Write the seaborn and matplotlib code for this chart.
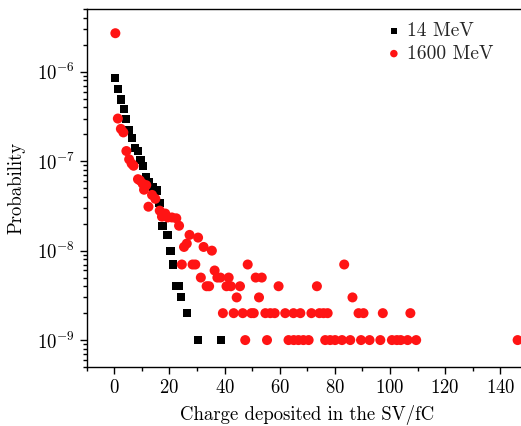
import matplotlib
matplotlib.use("Agg")
import matplotlib.pyplot as plt
import matplotlib.ticker as mticker
import numpy as np
import pandas as pd
import seaborn as sns

# ---------------------------------------------------------------------------
# Data
# ---------------------------------------------------------------------------

charge_14 = [0.4, 1.5, 2.4, 3.4, 4.4, 5.5, 6.5, 7.5, 8.6, 9.5, 10.5, 11.6, 12.7,
             14.0, 15.5, 16.4, 17.5, 19.3, 20.4, 21.3, 22.5, 23.6, 24.3, 26.4,
             30.4, 38.6]
prob_14 = [8.5e-7, 6.4e-7, 4.9e-7, 3.8e-7, 3.0e-7, 2.25e-7, 1.8e-7, 1.42e-7,
           1.3e-7, 1.04e-7, 8.8e-8, 6.6e-8, 5.8e-8, 5.1e-8, 4.7e-8, 3.4e-8,
           1.9e-8, 1.5e-8, 1.0e-8, 7e-9, 4e-9, 4e-9, 3e-9, 2e-9, 1e-9, 1e-9]

charge_1600 = [0.4, 1.3, 2.4, 3.3, 4.4, 5.4, 6.3, 7.0, 8.6, 9.3, 10.3, 10.8,
               11.6, 12.4, 13.7, 14.9, 16.5, 17.3, 18.5, 19.4, 20.9, 22.5, 23.5,
               24.5, 25.3, 26.3, 27.3, 28.4, 29.4, 30.4, 31.4, 32.4, 33.5, 34.4,
               35.4, 36.4, 37.4, 38.5, 39.4, 40.7, 41.5, 42.3, 43.3, 44.4, 45.6,
               46.6, 47.5, 48.4, 49.7, 50.6, 51.3, 52.5, 53.5, 54.8, 55.4, 56.6,
               58.2, 59.6, 62.0, 63.2, 65.0, 65.1, 66.8, 67.5, 68.6, 70.5, 71.5,
               73.5, 74.4, 75.9, 76.5, 77.4, 78.3, 80.1, 82.6, 83.4, 85.6, 86.4,
               88.6, 89.5, 90.4, 92.6, 96.5, 97.4, 100.7, 102.5, 103.9, 106.4,
               107.4, 109.5, 146.3]
prob_1600 = [2.7e-6, 3.0e-7, 2.3e-7, 2.1e-7, 1.3e-7, 1.05e-7, 9.4e-8, 8.9e-8,
             6.3e-8, 6.1e-8, 5.6e-8, 4.8e-8, 5.4e-8, 3.1e-8, 4.2e-8, 3.8e-8,
             2.8e-8, 2.4e-8, 2.6e-8, 2.35e-8, 2.35e-8, 2.3e-8, 1.9e-8, 7e-9,
             1.1e-8, 1.2e-8, 1.5e-8, 7e-9, 7e-9, 1.4e-8, 5e-9, 1.1e-8, 4e-9,
             4e-9, 1.0e-8, 6e-9, 5e-9, 5e-9, 2e-9, 4e-9, 5e-9, 4e-9, 2e-9, 3e-9,
             4e-9, 2e-9, 1e-9, 7e-9, 2e-9, 2e-9, 5e-9, 3e-9, 5e-9, 2e-9, 1e-9,
             2e-9, 2e-9, 4e-9, 2e-9, 1e-9, 2e-9, 1e-9, 1e-9, 2e-9, 1e-9, 1e-9,
             2e-9, 4e-9, 2e-9, 2e-9, 1e-9, 2e-9, 1e-9, 1e-9, 1e-9, 7e-9, 1e-9,
             3e-9, 2e-9, 1e-9, 2e-9, 1e-9, 1e-9, 2e-9, 1e-9, 1e-9, 1e-9, 1e-9,
             2e-9, 1e-9, 1e-9]

labels = ["14 MeV", "1600 MeV"]
x_ticks = [0, 20, 40, 60, 80, 100, 120, 140]
y_ticks = [1e-9, 1e-8, 1e-7, 1e-6]

# ---------------------------------------------------------------------------
# Plot
# ---------------------------------------------------------------------------

sns.set_theme(style="ticks")
plt.rcParams["font.family"] = ["cmr10", "DejaVu Serif"]
plt.rcParams["mathtext.fontset"] = "cm"
plt.rcParams["axes.formatter.use_mathtext"] = True
plt.rcParams["axes.unicode_minus"] = False

df14 = pd.DataFrame({"charge": charge_14, "prob": prob_14})
df1600 = pd.DataFrame({"charge": charge_1600, "prob": prob_1600})

fig = plt.figure(figsize=(5.21, 4.26), dpi=100)
ax = fig.add_axes([0.1664, 0.1385, 0.8467, 0.8397])

sns.scatterplot(data=df14, x="charge", y="prob", marker="s", s=34,
                color="black", edgecolor="none", label=labels[0], ax=ax)
sns.scatterplot(data=df1600, x="charge", y="prob", marker="o", s=52,
                color="#ff1414", edgecolor="none", label=labels[1], ax=ax)

ax.set_yscale("log")
ax.set_xlim(-10, 150)
ax.set_ylim(5e-10, 5e-6)
ax.set_xticks(x_ticks)
ax.xaxis.set_minor_locator(mticker.MultipleLocator(10))
ax.yaxis.set_major_locator(mticker.FixedLocator(y_ticks))
ax.yaxis.set_major_formatter(mticker.LogFormatterSciNotation())
ax.yaxis.set_minor_locator(mticker.LogLocator(base=10, subs=np.arange(2, 10), numticks=10))
ax.yaxis.set_minor_formatter(mticker.NullFormatter())

ax.tick_params(which="both", direction="out", colors="black", labelsize=13.5, width=1)
ax.tick_params(which="major", length=5)
ax.tick_params(which="minor", length=3)
for side in ["left", "bottom", "top"]:
    ax.spines[side].set_visible(True)
    ax.spines[side].set_color("black")
    ax.spines[side].set_linewidth(1.0)
ax.spines["right"].set_visible(False)

ax.set_xlabel("Charge deposited in the SV/fC", fontsize=13.5, color="black", labelpad=6)
ax.set_ylabel("Probability", fontsize=13.5, color="black", labelpad=8)

leg = ax.legend(loc="upper left", bbox_to_anchor=(389 / 521, 1 - 22 / 426),
                bbox_transform=fig.transFigure, frameon=False, fontsize=14,
                handlelength=0.5, handletextpad=0.45, borderpad=0, borderaxespad=0,
                labelspacing=0.25, markerscale=0.75)

fig.savefig("out.png", dpi=100)
